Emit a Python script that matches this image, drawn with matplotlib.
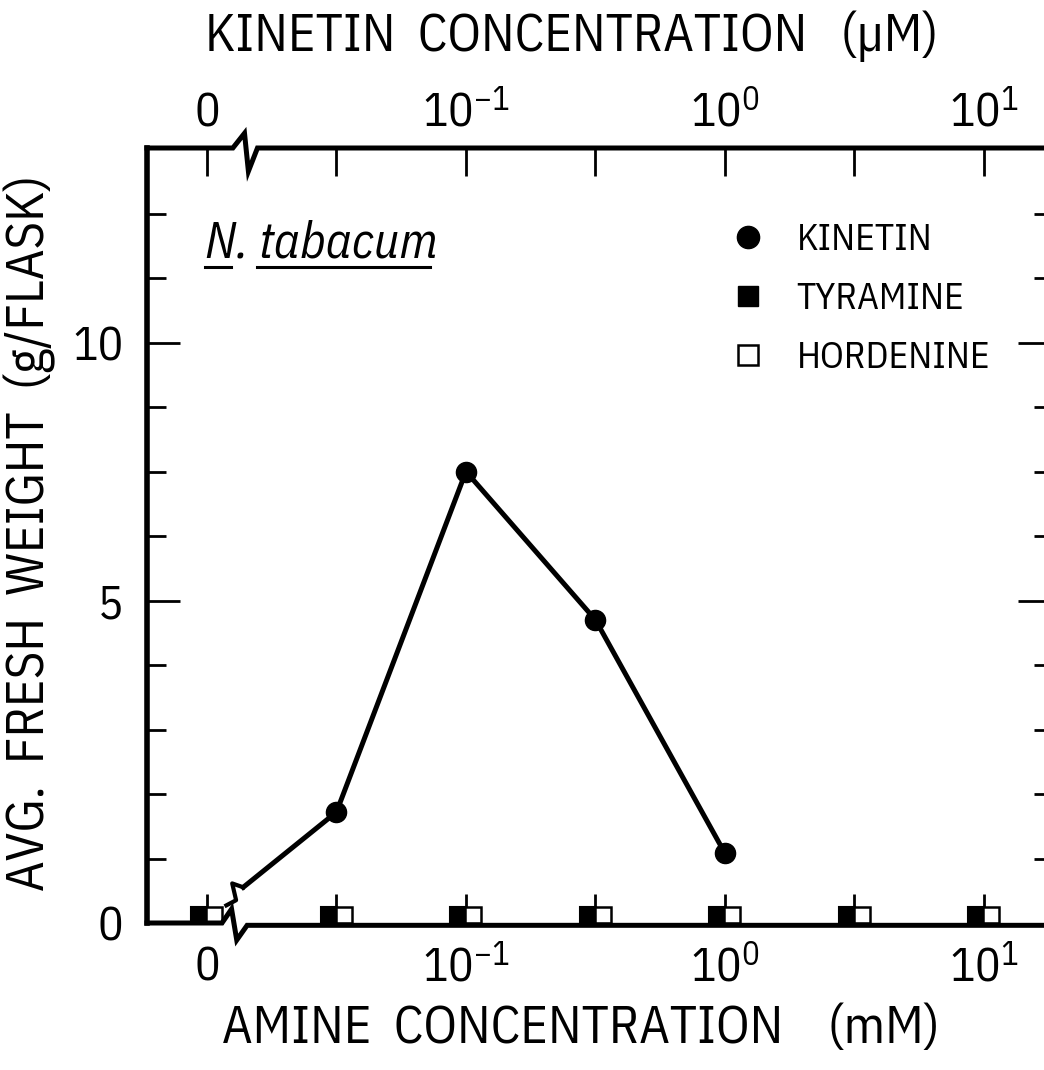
import matplotlib
matplotlib.use("Agg")
import matplotlib.pyplot as plt
from matplotlib.lines import Line2D
import numpy as np

# concentration levels (evenly spaced categories on the plot)
conc_levels = [0, 0.03, 0.1, 0.3, 1, 3, 10]      # mM (amines) / uM (kinetin)
conc_ticklabels = ['0', r'$\mathregular{10^{-1}}$', r'$\mathregular{10^{0}}$', r'$\mathregular{10^{1}}$']
conc_tickvals = [0, 0.1, 1, 10]

# kinetin (uM) -> fresh weight (g/flask)
kinetin_uM = [0.03, 0.1, 0.3, 1]
kinetin_fw = [1.72, 7.5, 4.7, 1.08]
kinetin_control = 0.1

# amines (mM) -> fresh weight
amine_mM = [0, 0.03, 0.1, 0.3, 1, 3, 10]
tyramine_fw = [0.12, 0.12, 0.12, 0.12, 0.12, 0.12, 0.12]
hordenine_fw = [0.12, 0.12, 0.12, 0.12, 0.12, 0.12, 0.12]

FONT = ['IBM Plex Sans Condensed', 'DejaVu Sans']
plt.rcParams['font.family'] = FONT
plt.rcParams['font.weight'] = 'normal'
plt.rcParams['mathtext.fontset'] = 'custom'
plt.rcParams['mathtext.rm'] = 'IBM Plex Sans Condensed'
plt.rcParams['mathtext.it'] = 'IBM Plex Sans Condensed:italic'


# y axis: 1 unit per tick up to 5, then 1.25 units per tick
def fwd(y):
    y = np.asarray(y, dtype=float)
    return np.where(y <= 5, y, 5 + (y - 5) * 0.8)


def inv(t):
    t = np.asarray(t, dtype=float)
    return np.where(t <= 5, t, 5 + (t - 5) * 1.25)


W, H = 1044, 1070
fig = plt.figure(figsize=(W / 100, H / 100), dpi=100)
ax = fig.add_axes([147 / W, (H - 923) / H, (1046 - 147) / W, (923 - 148) / H])
ax.set_yscale('function', functions=(fwd, inv))
ax.set_ylim(0, 13.77)
ax.set_xlim(-0.463, 6.479)

xpos = {c: i for i, c in enumerate(conc_levels)}

# amines
am_x = np.array([xpos[c] for c in amine_mM])
off = 0.058
ax.plot(am_x - off, tyramine_fw, 's', ms=11, mfc='k', mec='k', mew=1.5,
        ls='none', clip_on=False, zorder=4)
ax.plot(am_x + off, hordenine_fw, 's', ms=11, mfc='white', mec='k', mew=1.8,
        ls='none', clip_on=False, zorder=4)

# kinetin
kin_x = [xpos[c] for c in kinetin_uM]
bx = 0.28
yb = np.interp(bx, [0, kin_x[0]], [kinetin_control, kinetin_fw[0]])
ax.plot([bx] + kin_x, [yb] + kinetin_fw, color='k', lw=3.6, zorder=3)
ax.plot([bx, bx - 0.085, bx - 0.055, bx - 0.13],
        [yb, yb + 0.06, yb - 0.2, yb - 0.28], color='k', lw=3, zorder=3)
ax.plot(kin_x, kinetin_fw, 'o', color='k', ms=14.5, zorder=5)

# spines: left solid, top/bottom drawn with break marks, right cut off
for s in ['top', 'bottom', 'right']:
    ax.spines[s].set_visible(False)
ax.spines['left'].set_linewidth(4)
tr = ax.get_xaxis_transform()
x0, x1 = ax.get_xlim()
ax.plot([x0, 0.116, 0.19, 0.23, 0.31, x1], [0, 0, 0.018, -0.022, -0.003, -0.003],
        transform=tr, color='k', lw=3.6, clip_on=False, solid_joinstyle='miter', zorder=6)
ax.plot([x0, 0.2, 0.29, 0.32, 0.39, x1], [1, 1, 1.019, 0.97, 1.0, 1.0],
        transform=tr, color='k', lw=3.6, clip_on=False, solid_joinstyle='miter', zorder=6)

# x ticks
ax.set_xticks([xpos[c] for c in conc_tickvals])
ax.set_xticklabels(conc_ticklabels)
ax.set_xticks([1, 3, 5], minor=True)
ax.tick_params(axis='x', which='both', direction='in', length=21, width=2,
               pad=16, labelsize=34)

top = ax.secondary_xaxis('top')
top.set_xticks([xpos[c] for c in conc_tickvals])
top.set_xticklabels(conc_ticklabels)
top.set_xticks([1, 3, 5], minor=True)
top.tick_params(axis='x', which='both', direction='in', length=20, width=2,
                pad=9, labelsize=34)
top.spines['top'].set_visible(False)

# y ticks
ax.set_yticks([0, 5, 10])
ax.set_yticklabels(['0', '5', '10'])
ax.set_yticks([1, 2, 3, 4, 6.25, 7.5, 8.75, 11.25, 12.5], minor=True)
ax.tick_params(axis='y', which='major', direction='in', length=24, width=2,
               pad=17, labelsize=34)
ax.tick_params(axis='y', which='minor', direction='in', length=14, width=2)

ax2 = ax.twinx()
ax2.set_yscale('function', functions=(fwd, inv))
ax2.set_ylim(ax.get_ylim())
ax2.set_yticks([5, 10])
ax2.set_yticks([1, 2, 3, 4, 6.25, 7.5, 8.75, 11.25, 12.5], minor=True)
ax2.tick_params(axis='y', which='major', direction='in', length=20, width=2,
                labelright=False)
ax2.tick_params(axis='y', which='minor', direction='in', length=8.5, width=2)
for s in ax2.spines.values():
    s.set_visible(False)

# axis titles
fig.text(572 / W, 1 - 36 / H, 'KINETIN  CONCENTRATION   (\u00b5M)', ha='center',
         va='center', fontsize=38)
fig.text(581 / W, 1 - 1029 / H, 'AMINE  CONCENTRATION    (mM)', ha='center',
         va='center', fontsize=38)
fig.text(30 / W, 1 - 533 / H, 'AVG.  FRESH  WEIGHT  (g/FLASK)', ha='center',
         va='center', rotation=90, fontsize=38)

# species label
fig.text(205 / W, 1 - 257 / H, 'N. tabacum', ha='left', va='baseline',
         fontsize=36, style='italic')
fig.add_artist(Line2D([205 / W, 231 / W], [1 - 267 / H] * 2, color='k', lw=2.2))
fig.add_artist(Line2D([257 / W, 430 / W], [1 - 267 / H] * 2, color='k', lw=2.2))

# legend
handles = [
    Line2D([], [], marker='o', ls='none', color='k', ms=16),
    Line2D([], [], marker='s', ls='none', mfc='k', mec='k', ms=14),
    Line2D([], [], marker='s', ls='none', mfc='white', mec='k', mew=1.8, ms=14),
]
ax.legend(handles, ['KINETIN', 'TYRAMINE', 'HORDENINE'], loc='upper left',
          bbox_to_anchor=(729 / W, 1 - 222 / H), bbox_transform=fig.transFigure,
          frameon=False, fontsize=27, handlelength=1.0, handletextpad=0.8,
          labelspacing=0.62, borderpad=0, borderaxespad=0)

fig.savefig('out.png', dpi=100)
